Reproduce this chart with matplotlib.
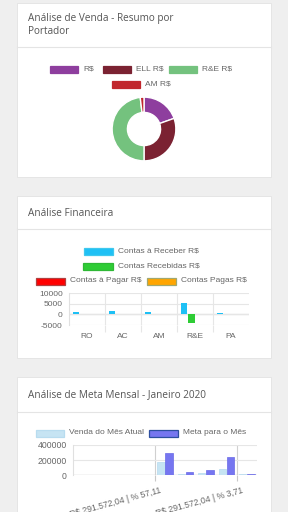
import matplotlib.pyplot as plt
from matplotlib.patches import Rectangle
from matplotlib.transforms import ScaledTranslation
import numpy as np

# dados
portador_labels = ['R$', 'ELL R$', 'R&E R$', 'AM R$']
portador_values = [19.6, 30.4, 48.1, 1.9]
portador_colors = ['#8e3e9e', '#7b2232', '#74c27e', '#c1272d']

regioes = ['RO', 'AC', 'AM', 'R&E', 'PA']
contas_receber = [900, 1500, 900, 5400, 600]
contas_recebidas = [0, 0, 0, -4200, 0]
contas_pagar = [0, 0, 0, 0, 0]
contas_pagas = [0, 0, 0, 0, 0]
fin_labels = ['Contas à Receber R$', 'Contas Recebidas R$', 'Contas à Pagar R$', 'Contas Pagas R$']
fin_colors = ['#1ec0f5', '#2ecc35', '#ff0000', '#ffa500']
fin_edges = ['#3fc8ee', '#2eb835', '#b04040', '#a0a870']

meta_labels = ['', '', '', '', 'R$ 291.572,04 | % 57,11', '', '', '', 'R$ 291.572,04 | % 3,71']
venda_mes = [0, 0, 0, 0, 172000, 18000, 33000, 84000, 13000]
meta_mes = [0, 0, 0, 0, 292000, 44000, 71000, 248000, 20000]

W, H = 288, 512
txt = '#666666'
title_c = '#555555'

plt.rcParams['font.family'] = ['Liberation Sans', 'DejaVu Sans']

fig = plt.figure(figsize=(W / 100, H / 100), dpi=100)
fig.patch.set_facecolor('#efefef')

# fundo em coordenadas de pixel
bg = fig.add_axes([0, 0, 1, 1])
bg.set_xlim(0, W)
bg.set_ylim(H, 0)
bg.axis('off')
bg.set_zorder(0)


def card(y0, y1, sep):
    bg.add_patch(Rectangle((17, y0), 254, y1 - y0, facecolor='white', edgecolor='#e2e2e2', lw=0.6))
    bg.plot([17, 271], [sep, sep], color='#e4e4e4', lw=0.8)


def title(x, y, s):
    bg.text(x, y, s, fontsize=7.2, color=title_c, family='Open Sans', va='center', ha='left')


def leg(x, y, w, label, fc, ec):
    bg.add_patch(Rectangle((x, y - 3.5), w, 7, facecolor=fc, edgecolor=ec, lw=0.9))
    bg.text(x + w + 5, y, label, fontsize=6, color=txt, va='center', ha='left')


def px_axes(x0, y0, x1, y1):
    return fig.add_axes([x0 / W, 1 - y1 / H, (x1 - x0) / W, (y1 - y0) / H])


# card 1
card(3, 177, 47)
title(28, 19, 'Análise de Venda - Resumo por')
title(28, 31, 'Portador')
leg_pos = [(50, 69), (103, 69), (169, 69), (112, 84)]
for (x, y), lab, c in zip(leg_pos, portador_labels, portador_colors):
    leg(x, y, 28, lab, c, c)

ax1 = px_axes(111.5, 96.5, 176.5, 161.5)
ax1.pie(portador_values, colors=portador_colors, startangle=90, counterclock=False,
        radius=1, wedgeprops=dict(width=0.48, edgecolor='white', linewidth=1))
ax1.set_xlim(-1.02, 1.02)
ax1.set_ylim(-1.02, 1.02)

# card 2
card(196, 358, 229)
title(28, 213, 'Análise Financeira')
leg(84, 251, 29, fin_labels[0], fin_colors[0], fin_edges[0])
leg(83, 266, 30, fin_labels[1], fin_colors[1], fin_edges[1])
leg(36, 281, 29, fin_labels[2], fin_colors[2], fin_edges[2])
leg(147, 281, 29, fin_labels[3], fin_colors[3], fin_edges[3])

ax2 = px_axes(69, 293, 249, 325)
x = np.arange(len(regioes))
for i, serie in enumerate([contas_receber, contas_recebidas, contas_pagar, contas_pagas]):
    ax2.bar(x + (i - 1.5) * 0.2, serie, width=0.18, color=fin_colors[i], zorder=3)
ax2.set_xlim(-0.5, 4.5)
ax2.set_ylim(-5000, 10000)
ax2.set_yticks([-5000, 0, 5000, 10000], ['-5000', '0', '5000', '10000'])
ax2.set_xticks(x, regioes)
ax2.set_xticks(np.arange(0.5, 4.5, 1), minor=True)
ax2.tick_params(axis='both', which='major', length=0, labelsize=6, labelcolor=txt)
ax2.tick_params(axis='y', pad=4.5)
ax2.tick_params(axis='x', pad=6)
ax2.tick_params(axis='x', which='minor', length=5, color='#e6e6e6', width=0.8)
ax2.grid(axis='y', color='#e6e6e6', lw=0.8, zorder=0)
ax2.grid(axis='x', which='minor', color='#e6e6e6', lw=0.8, zorder=0)
ax2.axhline(0, color='#cfcfcf', lw=0.9, zorder=1)
for s in ['top', 'right', 'bottom']:
    ax2.spines[s].set_visible(False)
ax2.spines['left'].set_color('#e0e0e0')
ax2.set_facecolor('none')

# card 3
card(377, 520, 412)
title(28, 395, 'Análise de Meta Mensal - Janeiro 2020')
leg(36, 433, 28, 'Venda do Mês Atual', '#c6e4f3', '#b8dcef')
leg(149, 433, 29, 'Meta para o Mês', '#7676f0', '#2d4fa0')

ax3 = px_axes(73, 445, 257, 475.3)
xm = np.arange(len(meta_labels))
ax3.bar(xm - 0.2, venda_mes, width=0.36, color='#c6e4f3', edgecolor='#b5daee', lw=0.5, zorder=3)
ax3.bar(xm + 0.2, meta_mes, width=0.36, color='#7676f0', edgecolor='#6a6ae6', lw=0.5, zorder=3)
ax3.set_xlim(-0.5, 8.5)
ax3.set_ylim(0, 400000)
ax3.set_yticks([0, 200000, 400000], ['0', '200000', '400000'])
ax3.set_xticks(xm, meta_labels, rotation=15, ha='right', rotation_mode='anchor')
ax3.set_xticks([3.5, 7.5], minor=True)
ax3.tick_params(axis='both', which='major', length=0, labelsize=6.2, labelcolor=txt)
ax3.tick_params(axis='y', pad=4.5)
ax3.tick_params(axis='x', pad=8)
ax3.tick_params(axis='x', which='minor', length=4, color='#c8c8c8', width=0.8)
shift = ScaledTranslation(-5 / 100, 0, fig.dpi_scale_trans)
for lab in ax3.get_xticklabels():
    lab.set_transform(lab.get_transform() + shift)
ax3.grid(axis='y', color='#e6e6e6', lw=0.8, zorder=0)
ax3.grid(axis='x', which='minor', color='#d0d0d0', lw=0.8, zorder=0)
ax3.axhline(0, color='#bdbdbd', lw=0.9, zorder=1)
for s in ['top', 'right', 'bottom']:
    ax3.spines[s].set_visible(False)
ax3.spines['left'].set_color('#e0e0e0')
ax3.set_facecolor('none')

fig.savefig('out.png', dpi=100, facecolor=fig.get_facecolor())
